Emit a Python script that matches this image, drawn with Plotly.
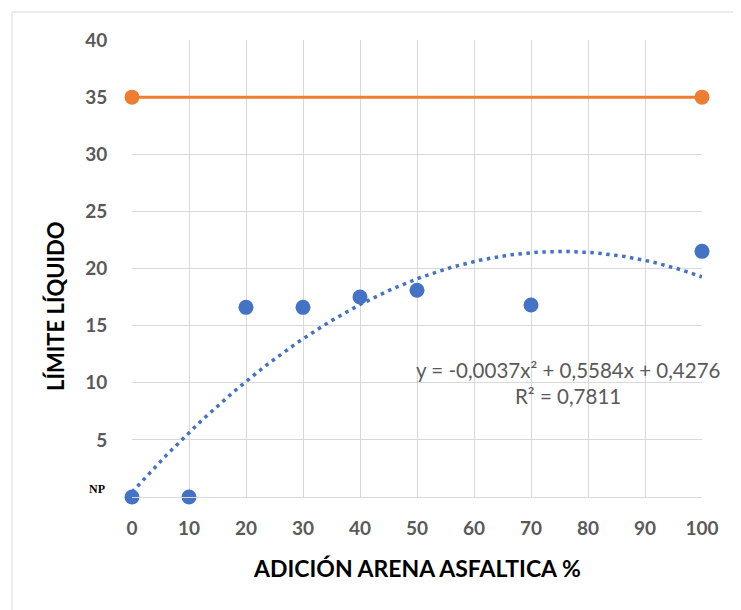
import numpy as np
import plotly.graph_objects as go

adicion = [0, 10, 20, 30, 40, 50, 70, 100]
limite_liquido = [0, 0, 16.6, 16.6, 17.5, 18.1, 16.8, 21.5]
limite_x = [0, 100]
limite_y = [35, 35]
trend_coef = [-0.0037, 0.5584, 0.4276]
x_ticks = [0, 10, 20, 30, 40, 50, 60, 70, 80, 90, 100]
y_ticks = [5, 10, 15, 20, 25, 30, 35, 40]

xt = np.linspace(0, 100, 201)
yt = np.polyval(trend_coef, xt)

fig = go.Figure()
fig.add_trace(go.Scatter(x=xt, y=yt, mode="lines",
                         line=dict(color="#4472C4", width=3.5, dash="3.5px,4.5px"),
                         hoverinfo="skip", cliponaxis=False))
fig.add_trace(go.Scatter(x=limite_x, y=limite_y, mode="lines+markers",
                         line=dict(color="#ED7D31", width=3),
                         marker=dict(color="#ED7D31", size=15), cliponaxis=False))
fig.add_trace(go.Scatter(x=adicion, y=limite_liquido, mode="markers",
                         marker=dict(color="#4472C4", size=15), cliponaxis=False))

tickfont = dict(family="Lato", size=19, color="#595959", weight="bold")
xtitlefont = dict(family="Lato", size=23, color="black", weight="bold")
ytitlefont = dict(family="Lato", size=22, color="black", weight="bold")
fig.update_layout(
    width=733, height=602,
    margin=dict(l=124, r=39, t=32, b=113, autoexpand=False),
    paper_bgcolor="white", plot_bgcolor="white",
    showlegend=False,
    font=dict(family="Lato"),
    xaxis=dict(range=[0, 100], tickvals=x_ticks, showgrid=True,
               gridcolor="#D9D9D9", gridwidth=1, zeroline=False,
               showline=True, linecolor="#D9D9D9", linewidth=1,
               ticks="outside", ticklen=14, tickcolor="rgba(0,0,0,0)",
               tickfont=tickfont, automargin=False),
    yaxis=dict(range=[0, 40], tickvals=y_ticks, showgrid=True,
               gridcolor="#D9D9D9", gridwidth=1, zeroline=False,
               showline=False,
               ticks="outside", ticklen=20, tickcolor="rgba(0,0,0,0)",
               tickfont=tickfont, automargin=False),
    shapes=[dict(type="rect", xref="paper", yref="paper",
                 x0=-0.2105, x1=1.2, y0=-0.6, y1=1.0613,
                 line=dict(color="#D9D9D9", width=1), layer="below")],
    annotations=[
        dict(text="ADICIÓN ARENA ASFALTICA %", xref="paper", yref="paper",
             x=0.5, y=-0.1554, xanchor="center", yanchor="middle",
             showarrow=False, font=xtitlefont),
        dict(text="LÍMITE LÍQUIDO", xref="paper", yref="paper",
             x=-0.1333, y=0.418, xanchor="center", yanchor="middle",
             textangle=-90, showarrow=False, font=ytitlefont),
        dict(text="<b>NP</b>", xref="paper", yref="y", x=0, y=0.7,
             xanchor="right", xshift=-25, showarrow=False,
             font=dict(family="Liberation Serif", size=12, color="black")),
        dict(text="y = -0,0037x² + 0,5584x + 0,4276", xref="x", yref="y",
             x=76.5, y=11.1, showarrow=False,
             font=dict(family="Lato", size=20.5, color="#595959")),
        dict(text="R² = 0,7811", xref="x", yref="y",
             x=76.5, y=8.8, showarrow=False,
             font=dict(family="Lato", size=20.5, color="#595959")),
    ],
)

fig.write_html("out.html")
